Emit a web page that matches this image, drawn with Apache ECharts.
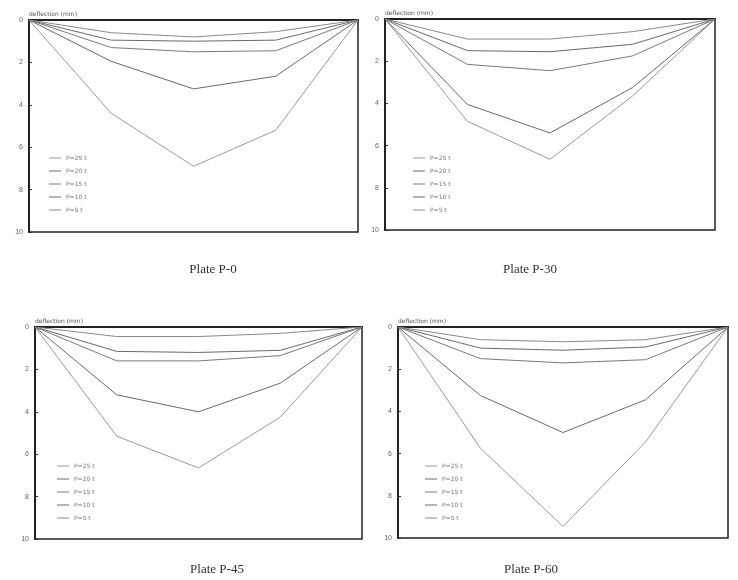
<!DOCTYPE html>
<html>
<head>
<meta charset="utf-8">
<script src="https://cdn.jsdelivr.net/npm/echarts@6/dist/echarts.min.js"></script>
<style>html,body{margin:0;padding:0;background:#fff}#c{width:738px;height:580px}</style>
</head>
<body>
<div id="c"></div>
<script>
// gauge positions along the plate (left support .. right support)
const positions = ['0', 'L/4', 'L/2', '3L/4', 'L'];
// load step labels (legend, top to bottom)
const loadLabels = ['P=25 t', 'P=20 t', 'P=15 t', 'P=10 t', 'P=5 t'];
const yTicks = [0, 2, 4, 6, 8, 10];
const panelTitles = ['Plate P-0', 'Plate P-30', 'Plate P-45', 'Plate P-60'];

// deflection (mm), one array per load step, for each plate
const p0_load1 = [0, 4.4, 6.9, 5.2, 0];
const p0_load2 = [0, 1.95, 3.25, 2.65, 0];
const p0_load3 = [0, 1.3, 1.5, 1.45, 0];
const p0_load4 = [0, 0.95, 1.0, 0.95, 0];
const p0_load5 = [0, 0.6, 0.8, 0.55, 0];

const p30_load1 = [0, 4.85, 6.65, 3.65, 0];
const p30_load2 = [0, 4.05, 5.4, 3.25, 0];
const p30_load3 = [0, 2.15, 2.45, 1.75, 0];
const p30_load4 = [0, 1.5, 1.55, 1.2, 0];
const p30_load5 = [0, 0.95, 0.95, 0.6, 0];

const p45_load1 = [0, 5.15, 6.65, 4.25, 0];
const p45_load2 = [0, 3.2, 4.0, 2.65, 0];
const p45_load3 = [0, 1.6, 1.6, 1.35, 0];
const p45_load4 = [0, 1.15, 1.2, 1.1, 0];
const p45_load5 = [0, 0.45, 0.45, 0.3, 0];

const p60_load1 = [0, 5.75, 9.45, 5.45, 0];
const p60_load2 = [0, 3.25, 5.0, 3.45, 0];
const p60_load3 = [0, 1.5, 1.7, 1.55, 0];
const p60_load4 = [0, 1.0, 1.1, 0.95, 0];
const p60_load5 = [0, 0.6, 0.7, 0.6, 0];

const panels = [
  [p0_load1, p0_load2, p0_load3, p0_load4, p0_load5],
  [p30_load1, p30_load2, p30_load3, p30_load4, p30_load5],
  [p45_load1, p45_load2, p45_load3, p45_load4, p45_load5],
  [p60_load1, p60_load2, p60_load3, p60_load4, p60_load5]
];

const grids = [
  {left: 29, top: 20, width: 329, height: 212},
  {left: 385, top: 19, width: 330, height: 211},
  {left: 35, top: 327, width: 327, height: 212},
  {left: 398, top: 327, width: 330, height: 211}
];
const titlePos = [{x: 208, y: 258}, {x: 525, y: 258}, {x: 212, y: 558}, {x: 526, y: 558}];
const legendPos = [{x: 44, y: 150}, {x: 408, y: 150}, {x: 52, y: 458}, {x: 420, y: 458}];
const lineColors = ['#9a9a9a', '#6a6a6a', '#7a7a7a', '#6a6a6a', '#8a8a8a'];

const chart = echarts.init(document.getElementById('c'), null, {renderer: 'canvas'});
const option = {
  backgroundColor: '#fff',
  animation: false,
  title: panelTitles.map((t, i) => ({
    text: t, left: titlePos[i].x, top: titlePos[i].y, textAlign: 'center',
    textStyle: {fontFamily: 'Liberation Serif', fontSize: 13, fontWeight: 'normal', color: '#333'}
  })),
  grid: grids.map(g => Object.assign({show: true, borderColor: '#222', borderWidth: 1.5, backgroundColor: '#fff'}, g)),
  legend: legendPos.map((p, i) => ({
    left: p.x, top: p.y, orient: 'vertical', itemGap: 7, itemWidth: 12, itemHeight: 1,
    icon: 'rect', data: loadLabels,
    textStyle: {fontSize: 6, color: '#777', fontFamily: 'DejaVu Sans'}
  })),
  xAxis: grids.map((g, i) => ({
    type: 'category', gridIndex: i, data: positions, boundaryGap: false,
    axisLabel: {show: false}, axisTick: {show: false},
    axisLine: {lineStyle: {color: '#222', width: 2}}, position: 'bottom'
  })),
  yAxis: grids.map((g, i) => ({
    type: 'value', gridIndex: i, inverse: true, min: yTicks[0], max: yTicks[yTicks.length - 1], interval: 2,
    name: 'deflection (mm)', nameLocation: 'start', nameGap: 3,
    nameTextStyle: {fontSize: 6, color: '#555', align: 'left', fontFamily: 'DejaVu Sans'},
    axisLine: {show: true, lineStyle: {color: '#222', width: 2}},
    axisTick: {show: true, inside: true, length: 3, lineStyle: {color: '#333'}},
    axisLabel: {fontSize: 7, color: '#666', margin: 6},
    splitLine: {show: false}
  })),
  series: []
};
panels.forEach((arrs, pi) => {
  arrs.forEach((d, si) => {
    option.series.push({
      type: 'line', name: loadLabels[si], xAxisIndex: pi, yAxisIndex: pi, data: d,
      symbol: 'none', lineStyle: {color: lineColors[si], width: 1}, itemStyle: {color: lineColors[si]}
    });
  });
});
chart.setOption(option);
</script>
</body>
</html>
